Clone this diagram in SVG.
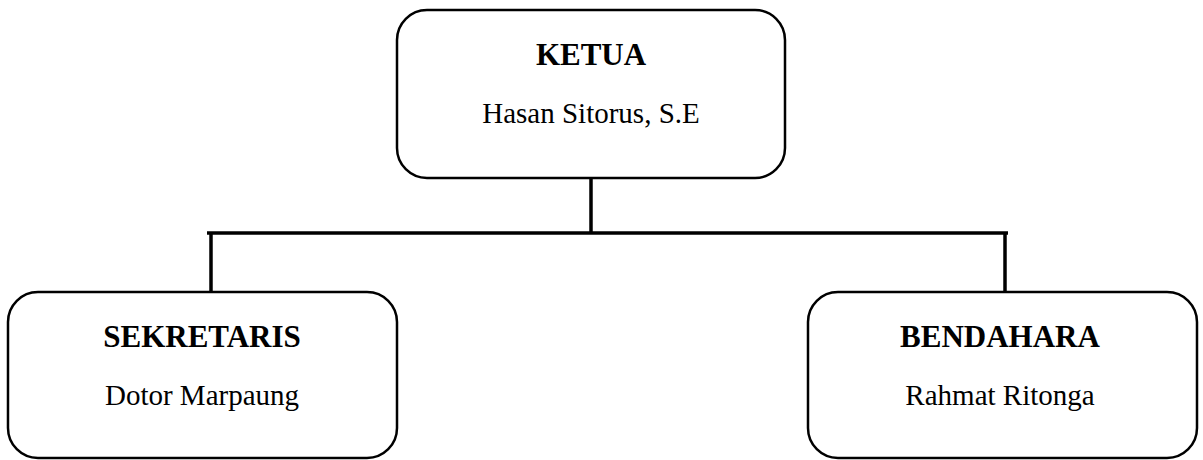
<svg xmlns="http://www.w3.org/2000/svg" width="1203" height="460" viewBox="0 0 1203 460">
  <style>
    .box { fill: #ffffff; stroke: #000000; stroke-width: 2.5; }
    .title { font-family: "Liberation Serif", "Times New Roman", serif; font-weight: bold; font-size: 31px; text-anchor: middle; fill: #000000; }
    .name { font-family: "Liberation Serif", "Times New Roman", serif; font-size: 29px; text-anchor: middle; fill: #000000; }
    .link { fill: none; stroke: #000000; stroke-width: 3.5; }
  </style>
  <rect width="1203" height="460" fill="#ffffff"/>

  <g id="connectors">
    <line class="link" x1="591" y1="178" x2="591" y2="233"/>
    <line class="link" x1="207" y1="233" x2="1008" y2="233"/>
    <line class="link" x1="211" y1="233" x2="211" y2="292"/>
    <line class="link" x1="1005" y1="233" x2="1005" y2="292"/>
  </g>

  <g id="ketua">
    <rect class="box" x="397" y="10" width="388" height="168" rx="30" ry="30"/>
    <text class="title" x="591" y="65">KETUA</text>
    <text class="name" x="591" y="123">Hasan Sitorus, S.E</text>
  </g>

  <g id="sekretaris">
    <rect class="box" x="8" y="292" width="389" height="166" rx="30" ry="30"/>
    <text class="title" x="202" y="347">SEKRETARIS</text>
    <text class="name" x="202" y="405">Dotor Marpaung</text>
  </g>

  <g id="bendahara">
    <rect class="box" x="808" y="292" width="389" height="166" rx="30" ry="30"/>
    <text class="title" x="1000" y="347">BENDAHARA</text>
    <text class="name" x="1000" y="405">Rahmat Ritonga</text>
  </g>
</svg>
